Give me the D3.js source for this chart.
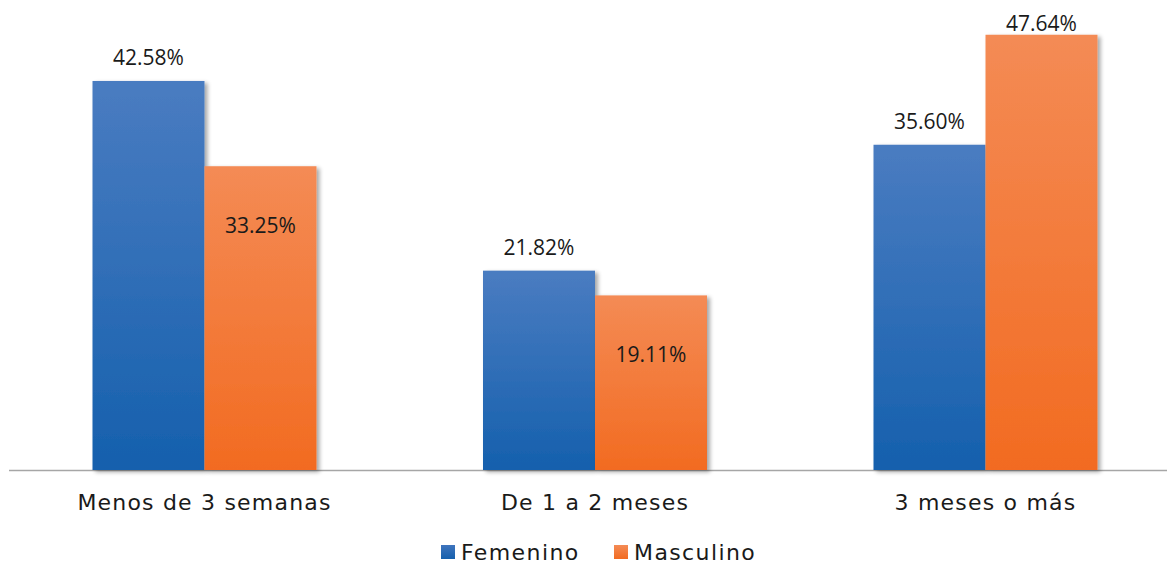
<!DOCTYPE html>
<html>
<head>
<meta charset="utf-8">
<script src="https://cdn.jsdelivr.net/npm/d3@7"></script>
<style>
  html, body { margin: 0; padding: 0; background: #fff; }
  svg { display: block; }
</style>
</head>
<body>
<svg id="chart" width="1167" height="565"></svg>
<script>
// Duration categories and the share of each gender in them (%)
const categories = ["Menos de 3 semanas", "De 1 a 2 meses", "3 meses o más"];
const seriesNames = ["Femenino", "Masculino"];
const femenino = [42.58, 21.82, 35.60];
const masculino = [33.25, 19.11, 47.64];
const valueLabels = {
  Femenino: ["42.58%", "21.82%", "35.60%"],
  Masculino: ["33.25%", "19.11%", "47.64%"]
};
// where each value label sits: above the bar or inside its top
const labelPlacement = {
  Femenino: ["out", "out", "out"],
  Masculino: ["in", "in", "top"]
};

const W = 1167, H = 565;
const baseY = 470;
const svg = d3.select("#chart");

const defs = svg.append("defs");
function grad(id, top, bottom) {
  const g = defs.append("linearGradient").attr("id", id)
    .attr("x1", 0).attr("y1", 0).attr("x2", 0).attr("y2", 1);
  g.append("stop").attr("offset", "0%").attr("stop-color", top);
  g.append("stop").attr("offset", "100%").attr("stop-color", bottom);
}
grad("gFem", "#4a7cc1", "#1560ad");
grad("gMas", "#f48b55", "#f26b21");
grad("gFemLeg", "#3f74bd", "#1560ad");
grad("gMasLeg", "#f48b55", "#f26b21");

const shadow = defs.append("filter").attr("id", "shadow")
  .attr("x", "-10%").attr("y", "-10%").attr("width", "125%").attr("height", "125%");
shadow.append("feGaussianBlur").attr("in", "SourceAlpha").attr("stdDeviation", 2.2);
shadow.append("feOffset").attr("dx", 2.5).attr("dy", 1.5).attr("result", "ob");
shadow.append("feComponentTransfer").append("feFuncA").attr("type", "linear").attr("slope", 0.35);
const merge = shadow.append("feMerge");
merge.append("feMergeNode");
merge.append("feMergeNode").attr("in", "SourceGraphic");

const x0 = d3.scaleBand().domain(categories).range([9.25, 1180.75]).paddingInner(0).paddingOuter(0);
const x1 = d3.scaleBand().domain(seriesNames).range([0, 224]);
const y = d3.scaleLinear().domain([0, 50]).range([baseY, baseY - 50 * 9.136]);

const fills = { Femenino: "url(#gFem)", Masculino: "url(#gMas)" };
const rows = categories.map((c, i) => ({
  cat: c,
  vals: [
    { s: "Femenino", v: femenino[i], label: valueLabels.Femenino[i], pos: labelPlacement.Femenino[i] },
    { s: "Masculino", v: masculino[i], label: valueLabels.Masculino[i], pos: labelPlacement.Masculino[i] }
  ]
}));

// axis baseline
svg.append("line")
  .attr("x1", 9).attr("x2", W).attr("y1", baseY + 0.5).attr("y2", baseY + 0.5)
  .attr("stroke", "#a6a6a6").attr("stroke-width", 1.6);

const groups = svg.selectAll("g.grp").data(rows).join("g")
  .attr("class", "grp")
  .attr("transform", d => `translate(${x0(d.cat) + x0.bandwidth() / 2 - 112},0)`);

groups.selectAll("rect").data(d => d.vals).join("rect")
  .attr("x", d => x1(d.s))
  .attr("width", x1.bandwidth())
  .attr("y", d => y(d.v))
  .attr("height", d => baseY - y(d.v))
  .attr("fill", d => fills[d.s])
  .attr("filter", "url(#shadow)");

groups.selectAll("text.val").data(d => d.vals).join("text")
  .attr("class", "val")
  .attr("x", d => x1(d.s) + x1.bandwidth() / 2)
  .attr("y", d => d.pos === "out" ? y(d.v) - 16 : d.pos === "in" ? y(d.v) + 67 : y(d.v) - 4)
  .attr("text-anchor", "middle")
  .attr("font-family", "'Open Sans', 'Noto Sans', sans-serif")
  .attr("font-size", 21)
  .attr("fill", "#1a1a1a")
  .text(d => d.label);

// category axis labels
const xAxis = d3.axisBottom(x0).tickSize(0).tickPadding(0);
const ax = svg.append("g").attr("transform", `translate(0,${baseY})`).call(xAxis);
ax.select(".domain").remove();
ax.selectAll("text")
  .attr("y", 40)
  .attr("dy", 0)
  .attr("font-family", "'DejaVu Sans', sans-serif")
  .attr("font-size", 22)
  .attr("letter-spacing", 1.2)
  .attr("fill", "#1a1a1a");

// legend
const legend = svg.append("g");
const legendItems = [
  { s: "Femenino", x: 441, fill: "url(#gFemLeg)" },
  { s: "Masculino", x: 614, fill: "url(#gMasLeg)" }
];
legendItems.forEach(it => {
  legend.append("rect").attr("x", it.x).attr("y", 545).attr("width", 14).attr("height", 14).attr("fill", it.fill);
  legend.append("text").attr("x", it.x + 20).attr("y", 560)
    .attr("font-family", "'DejaVu Sans', sans-serif").attr("font-size", 22)
    .attr("letter-spacing", 1.4)
    .attr("fill", "#1a1a1a").text(it.s);
});
</script>
</body>
</html>
